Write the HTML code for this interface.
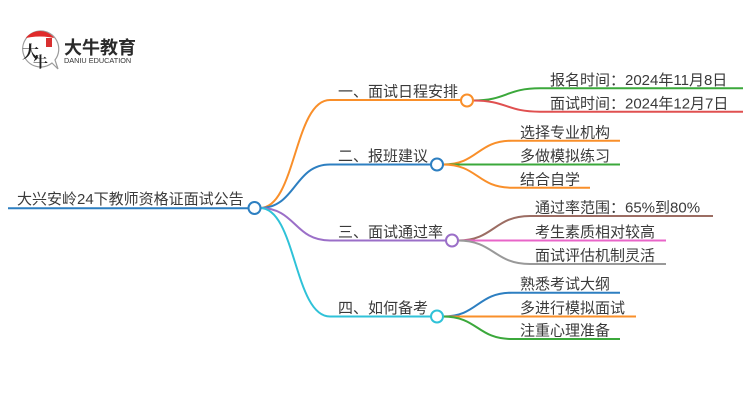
<!DOCTYPE html>
<html>
<head>
<meta charset="utf-8">
<style>
  html,body{margin:0;padding:0;background:#fff;}
  body{width:750px;height:410px;overflow:hidden;}
  svg{display:block;}
  .t{font-family:"Liberation Sans","Noto Sans CJK SC",sans-serif;font-size:15px;fill:#3a3a3a;}
</style>
</head>
<body>
<svg width="750" height="410" viewBox="0 0 750 410" xmlns="http://www.w3.org/2000/svg">
  <defs>
    <clipPath id="cc"><circle cx="40" cy="49" r="18"/></clipPath>
  </defs>
  <!-- Logo -->
  <g>
    <path d="M40 31 A18 18 0 1 0 52 63 L58 69 L55 60 A18 18 0 0 0 40 31 Z" fill="#fff" stroke="#9a9a9a" stroke-width="1.2"/>
    <path d="M18 40 Q40 33 62 40 L62 26 L18 26 Z" fill="#e02a2a" clip-path="url(#cc)"/>
    <rect x="46" y="38" width="6" height="9" fill="#d83030"/>
    <text x="22" y="58" font-family="'Noto Serif CJK SC','Noto Sans CJK SC',serif" font-size="17" font-weight="bold" fill="#222">大</text>
    <text x="33" y="67" font-family="'Noto Serif CJK SC','Noto Sans CJK SC',serif" font-size="15" font-weight="bold" fill="#222">牛</text>
    <text x="64" y="54" font-family="'Liberation Sans','Noto Sans CJK SC',sans-serif" font-size="18" font-weight="bold" fill="#2a2a2a">大牛教育</text>
    <text x="64" y="63" font-family="'Liberation Sans',sans-serif" font-size="7.3" fill="#333">DANIU EDUCATION</text>
  </g>

  <!-- Root -->
  <line x1="8" y1="208.3" x2="248" y2="208.3" stroke="#2d7fc1" stroke-width="2"/>
  <text class="t" x="17" y="204">大兴安岭24下教师资格证面试公告</text>

  <!-- Main branches -->
  <g fill="none" stroke-width="2">
    <path d="M260 208 C296 208 294 100 330 100 L461 100" stroke="#f98f2a"/>
    <path d="M260 208 C296 208 294 164.5 330 164.5 L431 164.5" stroke="#2d7fc1"/>
    <path d="M260 208 C296 208 294 240.5 330 240.5 L446 240.5" stroke="#9b6fc8"/>
    <path d="M260 208 C296 208 294 316.5 330 316.5 L431 316.5" stroke="#2fc2d8"/>
  </g>
  <circle cx="254.5" cy="208" r="6" fill="#fff" stroke="#2d7fc1" stroke-width="2"/>

  <text class="t" x="338" y="96.5">一、面试日程安排</text>
  <text class="t" x="338" y="161">二、报班建议</text>
  <text class="t" x="338" y="237">三、面试通过率</text>
  <text class="t" x="338" y="313">四、如何备考</text>

  <!-- Branch 1 leaves -->
  <g fill="none" stroke-width="2">
    <path d="M473 100.5 C507 100.5 506 88.3 540 88.3 L743 88.3" stroke="#3ba83b"/>
    <path d="M473 100.5 C507 100.5 506 111.7 540 111.7 L743 111.7" stroke="#e05050"/>
  </g>
  <circle cx="467" cy="100.5" r="6" fill="#fff" stroke="#f98f2a" stroke-width="2"/>
  <text class="t" x="550" y="85">报名时间：2024年11月8日</text>
  <text class="t" x="550" y="108.5">面试时间：2024年12月7日</text>

  <!-- Branch 2 leaves -->
  <g fill="none" stroke-width="2">
    <path d="M443 164.5 C478 164.5 477 140.7 512 140.7 L620 140.7" stroke="#f98f2a"/>
    <path d="M443 164.5 L620 164.5" stroke="#3ba83b"/>
    <path d="M443 164.5 C478 164.5 477 187.7 512 187.7 L590 187.7" stroke="#f98f2a"/>
  </g>
  <circle cx="437" cy="164.5" r="6" fill="#fff" stroke="#2d7fc1" stroke-width="2"/>
  <text class="t" x="520" y="137.5">选择专业机构</text>
  <text class="t" x="520" y="161">多做模拟练习</text>
  <text class="t" x="520" y="184.5">结合自学</text>

  <!-- Branch 3 leaves -->
  <g fill="none" stroke-width="2">
    <path d="M458 240.5 C494 240.5 494 216 530 216 L713 216" stroke="#9c6d63"/>
    <path d="M458 240.5 L666 240.5" stroke="#e865c8"/>
    <path d="M458 240.5 C494 240.5 494 264 530 264 L666 264" stroke="#999999"/>
  </g>
  <circle cx="452" cy="240.5" r="6" fill="#fff" stroke="#9b6fc8" stroke-width="2"/>
  <text class="t" x="535" y="212.5">通过率范围：65%到80%</text>
  <text class="t" x="535" y="237">考生素质相对较高</text>
  <text class="t" x="535" y="260.5">面试评估机制灵活</text>

  <!-- Branch 4 leaves -->
  <g fill="none" stroke-width="2">
    <path d="M443 316.5 C478 316.5 477 292.7 512 292.7 L620 292.7" stroke="#2d7fc1"/>
    <path d="M443 316.5 L636 316.5" stroke="#f98f2a"/>
    <path d="M443 316.5 C478 316.5 477 339 512 339 L620 339" stroke="#3ba83b"/>
  </g>
  <circle cx="437" cy="316.5" r="6" fill="#fff" stroke="#2fc2d8" stroke-width="2"/>
  <text class="t" x="520" y="289">熟悉考试大纲</text>
  <text class="t" x="520" y="313">多进行模拟面试</text>
  <text class="t" x="520" y="335.5">注重心理准备</text>
</svg>
</body>
</html>
